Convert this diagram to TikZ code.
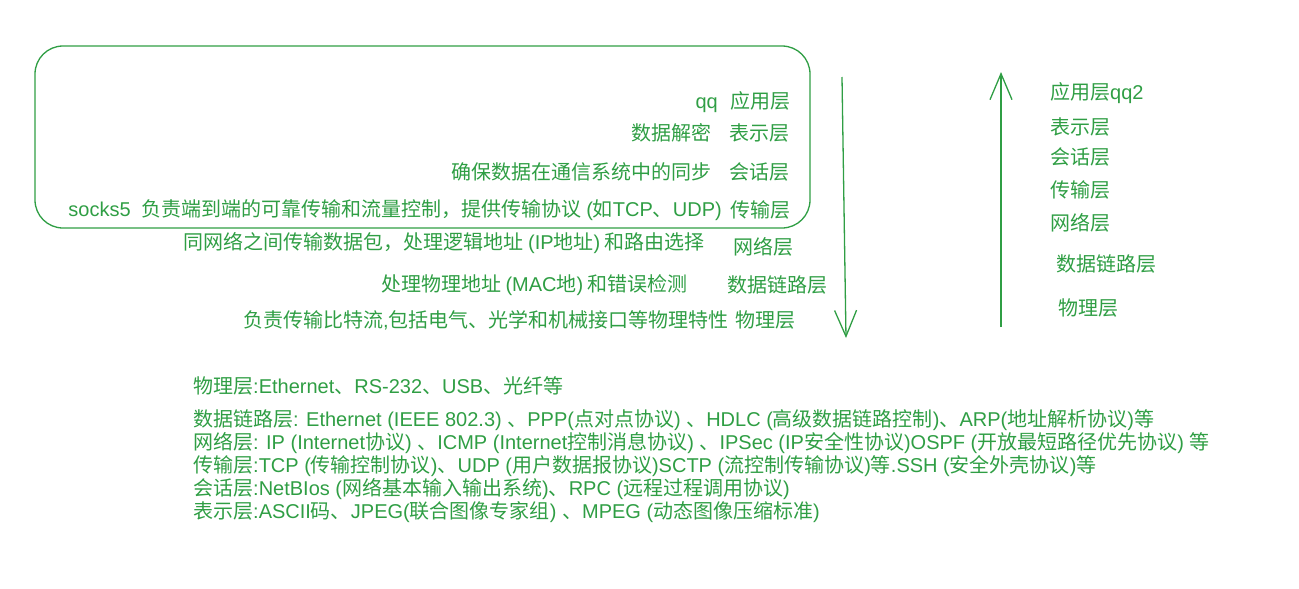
\documentclass[tikz,border=0pt]{standalone}
\usepackage{fontspec}
\setmainfont{Noto Sans CJK SC}
\newfontfamily\latinfont{Liberation Sans}
\newcommand\latn[1]{{\latinfont #1}}
\usetikzlibrary{arrows.meta}
\definecolor{osigreen}{HTML}{2F9E44}
\tikzset{
  txt/.style={text=osigreen, inner sep=0pt, font=\fontsize{20}{23}\selectfont},
  layer/.style={txt, anchor=west},
  desc/.style={txt, anchor=east},
  flow/.style={draw=osigreen, line width=1.3pt, -{Straight Barb[length=26pt,width=22pt]}},
}

\begin{document}
\begin{tikzpicture}[x=1pt, y=-1pt]
  \useasboundingbox (0, 0) rectangle (1299, 589);

  % group box round the top four layers
  \draw [osigreen, line width=1.3pt, rounded corners=28pt] (35, 46) rectangle (810, 228);

  % left column: descriptions and layer names
  \node [desc, anchor=base east] (d-app) at (718, 108) {\latn{qq}};
  \node [layer] (l-app) at (730, 101) {应用层};
  \node [desc] (d-pre) at (712, 133) {数据解密};
  \node [layer] (l-pre) at (729, 133) {表示层};
  \node [desc] (d-ses) at (712, 172) {确保数据在通信系统中的同步};
  \node [layer] (l-ses) at (729, 172) {会话层};
  \node [desc] (d-tra) at (722, 210) {\latn{socks5\ \ }负责端到端的可靠传输和流量控制，提供传输协议 \latn{(}如\latn{TCP}、\latn{UDP)}};
  \node [layer] (l-tra) at (730, 210) {传输层};
  \node [desc] (d-net) at (705, 243) {同网络之间传输数据包，处理逻辑地址 \latn{(IP}地址\latn{)} 和路由选择};
  \node [layer] (l-net) at (733, 247) {网络层};
  \node [desc] (d-dl) at (688, 285) {处理物理地址 \latn{(MAC}地\latn{)} 和错误检测};
  \node [layer] (l-dl) at (727, 285) {数据链路层};
  \node [desc] (d-phy) at (729, 320) {负责传输比特流\latn{,}包括电气、光学和机械接口等物理特性};
  \node [layer] (l-phy) at (735, 320) {物理层};

  % sending direction
  \coordinate (send-top) at (842, 77);
  \coordinate (send-end) at (846, 338);
  \draw [flow] (send-top) -- (send-end);

  % receiving direction
  \coordinate (recv-end) at (1001, 327);
  \coordinate (recv-top) at (1001, 72);
  \draw [flow] (recv-end) -- (recv-top);

  % right column
  \node [layer] (r-app) at (1050, 93) {应用层\latn{qq2}};
  \node [layer] (r-pre) at (1050, 127) {表示层};
  \node [layer] (r-ses) at (1050, 157) {会话层};
  \node [layer] (r-tra) at (1050, 190) {传输层};
  \node [layer] (r-net) at (1050, 223) {网络层};
  \node [layer] (r-dl) at (1056, 264) {数据链路层};
  \node [layer] (r-phy) at (1058, 308) {物理层};

  % protocols per layer
  \node [layer] (p-phy) at (193, 386) {物理层\latn{:Ethernet}、\latn{RS-232}、\latn{USB}、光纤等};
  \node [layer, align=left] (p-rest) at (193, 466) {数据链路层\latn{: Ethernet (IEEE 802.3) }、\latn{PPP(}点对点协议\latn{) }、\latn{HDLC (}高级数据链路控制\latn{)}、\latn{ARP(}地址解析协议\latn{)}等\\
    网络层\latn{: IP (Internet}协议\latn{) }、\latn{ICMP (Internet}控制消息协议\latn{) }、\latn{IPSec (IP}安全性协议\latn{)OSPF (}开放最短路径优先协议\latn{) }等\\
    传输层\latn{:TCP (}传输控制协议\latn{)}、\latn{UDP (}用户数据报协议\latn{)SCTP (}流控制传输协议\latn{)}等\latn{.SSH (}安全外壳协议\latn{)}等\\
    会话层\latn{:NetBIos (}网络基本输入输出系统\latn{)}、\latn{RPC (}远程过程调用协议\latn{)}\\
    表示层\latn{:ASCII}码、\latn{JPEG(}联合图像专家组\latn{) }、\latn{MPEG (}动态图像压缩标准\latn{)}};
\end{tikzpicture}
\end{document}
